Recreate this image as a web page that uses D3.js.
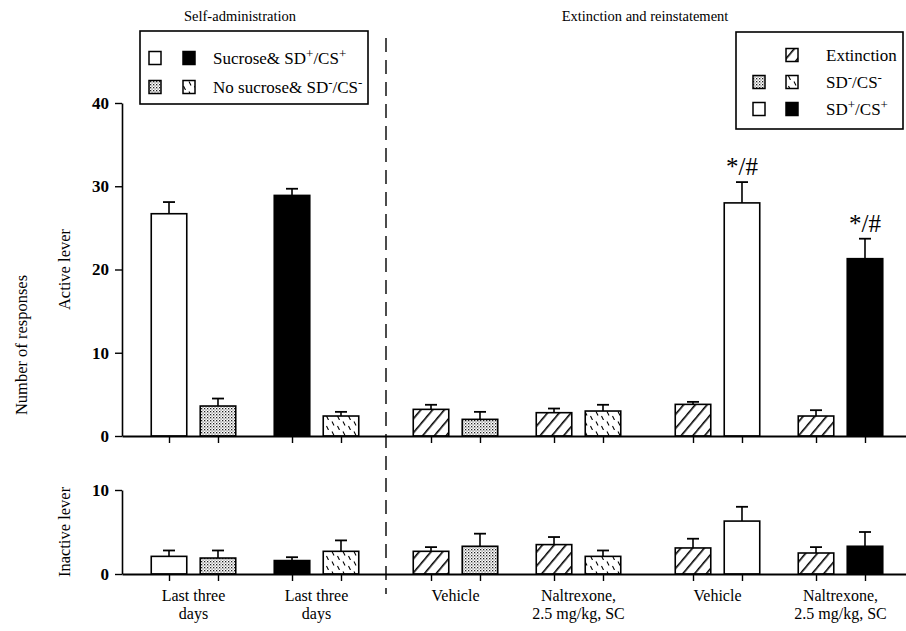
<!DOCTYPE html>
<html><head><meta charset="utf-8">
<script src="https://cdn.jsdelivr.net/npm/d3@7"></script>
<style>body{margin:0;background:#fff}svg{display:block}text{font-family:"Liberation Serif","Times New Roman",serif;fill:#000}</style>
</head><body><svg id="c" width="906" height="631"></svg>
<script>
// ---- data ----
const sections = ["Self-administration", "Extinction", "Reinstatement"];
const groupLabels = [["Last three", "days"], ["Last three", "days"], ["Vehicle"], ["Naltrexone,", "2.5 mg/kg, SC"], ["Vehicle"], ["Naltrexone,", "2.5 mg/kg, SC"]];
const barFills = ["white", "dots", "black", "wavy", "hatch", "dots", "hatch", "wavy", "hatch", "white", "hatch", "black"];
const activeMean = [26.7, 3.6, 28.9, 2.4, 3.2, 2.0, 2.8, 3.0, 3.8, 28.0, 2.4, 21.3];
const activeSem  = [1.4, 0.9, 0.8, 0.5, 0.55, 0.9, 0.5, 0.75, 0.3, 2.5, 0.7, 2.4];
const inactiveMean = [2.1, 1.9, 1.6, 2.7, 2.7, 3.3, 3.5, 2.1, 3.1, 6.3, 2.5, 3.3];
const inactiveSem  = [0.7, 0.9, 0.4, 1.3, 0.5, 1.5, 0.9, 0.7, 1.1, 1.7, 0.7, 1.7];
const activeTicks = [0, 10, 20, 30, 40];
const inactiveTicks = [0, 10];
const annotations = [{bar: 9, text: "*/#"}, {bar: 11, text: "*/#"}];

const svg = d3.select("#c");
const defs = svg.append("defs");
// patterns
const pH = defs.append("pattern").attr("id","hatch").attr("patternUnits","userSpaceOnUse")
  .attr("width",9).attr("height",9).attr("patternTransform","rotate(40)");
pH.append("rect").attr("width",9).attr("height",9).attr("fill","#fff");
pH.append("line").attr("x1",0).attr("y1",0).attr("x2",0).attr("y2",9).attr("stroke","#000").attr("stroke-width",3.2);
const pD = defs.append("pattern").attr("id","dots").attr("patternUnits","userSpaceOnUse").attr("width",3).attr("height",3);
pD.append("rect").attr("width",3).attr("height",3).attr("fill","#fff");
pD.append("rect").attr("width",1.3).attr("height",1.3).attr("fill","#222");
pD.append("rect").attr("x",1.5).attr("y",1.5).attr("width",1.1).attr("height",1.1).attr("fill","#555");
const pW = defs.append("pattern").attr("id","wavy").attr("patternUnits","userSpaceOnUse").attr("width",11).attr("height",10);
pW.append("rect").attr("width",11).attr("height",10).attr("fill","#fff");
pW.append("path").attr("d","M2,1.5 L4,5.5 M7.5,6 L9.5,10").attr("stroke","#000").attr("stroke-width",1.1).attr("fill","none");
const fillOf = f => f==="white" ? "#fff" : f==="black" ? "#000" : `url(#${f})`;

// scales
const xSec = d3.scaleBand().domain(sections).range([124, 910]);
const xGrp = d3.scalePoint().domain([0, 1]).range([0, xSec.bandwidth()]).padding(0.565);
const xBar = d3.scaleBand().domain([0, 1]).range([-42.25, 42.25]).paddingInner(0.275);
const groupCenter = g => xSec(sections[Math.floor(g/2)]) + xGrp(g % 2);
const barX = i => groupCenter(Math.floor(i/2)) + xBar(i % 2);
const barC = i => barX(i) + xBar.bandwidth()/2;

const yA = d3.scaleLinear().domain([0, 40]).range([436, 103]);
const yI = d3.scaleLinear().domain([0, 10]).range([574, 490]);

function panel(y, means, sems, ticks) {
  const g = svg.append("g");
  const idx = d3.range(means.length);
  g.selectAll("rect.bar").data(idx).join("rect")
    .attr("x", i => barX(i)).attr("width", xBar.bandwidth())
    .attr("y", i => y(means[i])).attr("height", i => y(0) - y(means[i]))
    .attr("fill", i => fillOf(barFills[i])).attr("stroke", "#000").attr("stroke-width", 1.6);
  g.selectAll("line.err").data(idx).join("line")
    .attr("x1", barC).attr("x2", barC)
    .attr("y1", i => y(means[i])).attr("y2", i => y(means[i] + sems[i]))
    .attr("stroke", "#000").attr("stroke-width", 1.6);
  g.selectAll("line.cap").data(idx).join("line")
    .attr("x1", i => barC(i) - 6).attr("x2", i => barC(i) + 6)
    .attr("y1", i => y(means[i] + sems[i])).attr("y2", i => y(means[i] + sems[i]))
    .attr("stroke", "#000").attr("stroke-width", 1.8);
  const xi = d3.scaleIdentity().domain([122, 906]);
  const ax = g.append("g").attr("transform", `translate(0,${y(0)})`)
    .call(d3.axisBottom(xi).tickValues(idx.map(barC)).tickFormat("").tickSize(7).tickSizeOuter(0));
  ax.select(".domain").attr("stroke-width", 2);
  ax.selectAll(".tick line").attr("stroke-width", 1.4);
  const ay = g.append("g").attr("transform", "translate(122,0)")
    .call(d3.axisLeft(y).tickValues(ticks).tickFormat(d3.format("d")).tickSize(7).tickSizeOuter(0).tickPadding(6));
  ay.select(".domain").attr("stroke-width", 1.6);
  ay.selectAll(".tick line").attr("stroke-width", 1.4);
  ay.selectAll(".tick text").style("font-family", '"Liberation Serif", serif').style("font-weight", "bold").style("font-size", "17px").attr("fill","#000");
}
panel(yA, activeMean, activeSem, activeTicks);
panel(yI, inactiveMean, inactiveSem, inactiveTicks);

// annotations
svg.selectAll("text.ann").data(annotations).join("text")
  .attr("x", d => barC(d.bar)).attr("y", d => yA(activeMean[d.bar] + activeSem[d.bar]) - 7)
  .attr("text-anchor", "middle").style("font-size", "25px").text(d => d.text);

// category labels
groupLabels.forEach((lines, gI) => {
  const t = svg.append("text").attr("x", groupCenter(gI)).attr("y", 601).attr("text-anchor", "middle").style("font-size", "16px");
  lines.forEach((l, k) => t.append("tspan").attr("x", groupCenter(gI)).attr("dy", k === 0 ? 0 : 18).text(l));
});

// section titles
svg.append("text").attr("x", 240).attr("y", 21).attr("text-anchor","middle").style("font-size","14.5px").text("Self-administration");
svg.append("text").attr("x", 645).attr("y", 21).attr("text-anchor","middle").style("font-size","14.5px").text("Extinction and reinstatement");

// y titles
svg.append("text").attr("transform","translate(27,345) rotate(-90)").attr("text-anchor","middle").style("font-size","16.5px").text("Number of responses");
svg.append("text").attr("transform",`translate(70,${(yA(0)+yA(40))/2}) rotate(-90)`).attr("text-anchor","middle").style("font-size","16.5px").text("Active lever");
svg.append("text").attr("transform",`translate(70,${(yI(0)+yI(10))/2}) rotate(-90)`).attr("text-anchor","middle").style("font-size","16.5px").text("Inactive lever");

// dashed divider
svg.append("line").attr("x1",386).attr("x2",386).attr("y1",38).attr("y2",594)
  .attr("stroke","#000").attr("stroke-width",1.4).attr("stroke-dasharray","14,8");

// legends
function supText(sel, parts) {
  parts.forEach(p => {
    if (p.sup) sel.append("tspan").attr("dy", -6).style("font-size", "13px").text(p.t);
    else sel.append("tspan").attr("dy", p.after ? 6 : 0).text(p.t);
  });
}
function swatch(x, y, f) {
  svg.append("rect").attr("x", x).attr("y", y - 6.5).attr("width", 12).attr("height", 13)
    .attr("fill", fillOf(f)).attr("stroke", "#000").attr("stroke-width", 1.5);
}
// legend 1
svg.append("rect").attr("x",140).attr("y",31).attr("width",228).attr("height",73).attr("fill","#fff").attr("stroke","#000").attr("stroke-width",1.6);
swatch(149, 58, "white"); swatch(183, 58, "black");
swatch(149, 87, "dots"); swatch(183, 87, "wavy");
let t1 = svg.append("text").attr("x", 213).attr("y", 64).style("font-size","17px");
supText(t1, [{t:"Sucrose& SD"},{t:"+",sup:true},{t:"/CS",after:true},{t:"+",sup:true}]);
let t2 = svg.append("text").attr("x", 213).attr("y", 93).style("font-size","17px");
supText(t2, [{t:"No sucrose& SD"},{t:"-",sup:true},{t:"/CS",after:true},{t:"-",sup:true}]);
// legend 2
svg.append("rect").attr("x",736).attr("y",32).attr("width",167).attr("height",97).attr("fill","#fff").attr("stroke","#000").attr("stroke-width",1.6);
swatch(786, 55, "hatch");
swatch(753, 82, "dots"); swatch(786, 82, "wavy");
swatch(753, 109, "white"); swatch(786, 109, "black");
svg.append("text").attr("x", 826).attr("y", 61).style("font-size","17px").text("Extinction");
let t3 = svg.append("text").attr("x", 826).attr("y", 88).style("font-size","17px");
supText(t3, [{t:"SD"},{t:"-",sup:true},{t:"/CS",after:true},{t:"-",sup:true}]);
let t4 = svg.append("text").attr("x", 826).attr("y", 115).style("font-size","17px");
supText(t4, [{t:"SD"},{t:"+",sup:true},{t:"/CS",after:true},{t:"+",sup:true}]);
</script></body></html>
